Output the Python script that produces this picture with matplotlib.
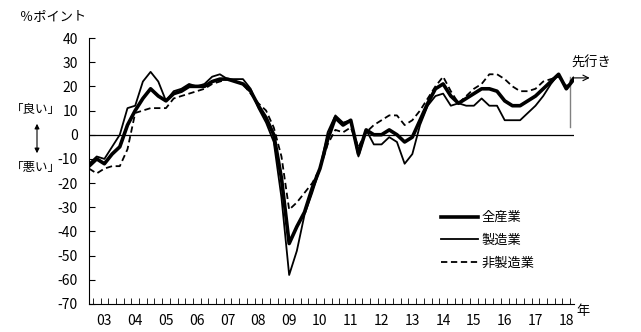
import numpy as np
import matplotlib.pyplot as plt

plt.rcParams['font.family'] = ['Noto Sans CJK JP', 'DejaVu Sans']
plt.rcParams['axes.unicode_minus'] = False

# quarterly DI, last point is the outlook (先行き)
years = ['03', '04', '05', '06', '07', '08', '09', '10',
         '11', '12', '13', '14', '15', '16', '17', '18']

all_ind = [-13, -10, -12, -8, -5, 4, 10, 15, 19, 16, 14, 17, 18, 20, 20, 20,
           22, 23, 23, 22, 21, 18, 12, 7, 0, -18, -45, -38, -32, -22, -14, -2,
           7, 4, 6, -8, 2, 0, 0, 2, 0, -3, -1, 6, 13, 19, 21, 16,
           13, 15, 17, 19, 19, 18, 14, 12, 12, 14, 16, 19, 22, 25, 19, 23]
mfg = [-12, -9, -10, -5, 0, 11, 12, 22, 26, 22, 14, 18, 19, 21, 20, 21,
       24, 25, 23, 23, 23, 19, 11, 5, -3, -26, -58, -48, -33, -24, -14, 1,
       8, 5, 6, -9, 2, -4, -4, -1, -3, -12, -8, 4, 12, 16, 17, 12,
       13, 12, 12, 15, 12, 12, 6, 6, 6, 9, 12, 16, 21, 25, 19, 23]
non_mfg = [-14, -16, -14, -13, -13, -6, 9, 10, 11, 11, 11, 15, 16, 17, 18, 19,
           21, 22, 23, 22, 21, 17, 13, 10, 3, -9, -31, -28, -24, -20, -14, -4,
           2, 1, 3, -5, 1, 4, 6, 8, 8, 4, 6, 10, 15, 20, 24, 18,
           13, 16, 19, 21, 25, 25, 23, 20, 18, 18, 19, 22, 23, 24, 20, 24]

x = np.arange(len(all_ind))

fig = plt.figure(figsize=(6.41, 3.32), dpi=100)
ax = fig.add_axes([89 / 641, 1 - 304 / 332, (574 - 89) / 641, (304 - 38) / 332])

l1, = ax.plot(x, all_ind, color='black', lw=2.6, label='全産業', zorder=4)
l2, = ax.plot(x, mfg, color='black', lw=1.3, label='製造業', zorder=3)
l3, = ax.plot(x, non_mfg, color='black', lw=1.3, ls=(0, (3.5, 2)), label='非製造業', zorder=3)
ax.axhline(0, color='black', lw=0.9, zorder=2)

ax.set_xlim(0, len(x) - 1)
ax.set_ylim(-70, 40)
ax.spines['top'].set_visible(False)
ax.spines['right'].set_visible(False)

ax.set_yticks(range(-70, 41, 10))
ax.tick_params(axis='y', direction='in', length=4, labelsize=10, pad=8)
ax.set_xticks(np.arange(len(years)) * 4 + 2)
ax.set_xticklabels(years)
ax.set_xticks(np.arange(len(x) - 1) + 0.5, minor=True)
ax.tick_params(axis='x', which='major', length=0, labelsize=10, pad=7)
ax.tick_params(axis='x', which='minor', direction='in', length=4)

# outlook separator and arrow
sep_x = (x[-2] + x[-1]) / 2
ax.plot([sep_x, sep_x], [3, 24], color='gray', lw=1, zorder=1)
ax.annotate('', xy=(sep_x + 2.9, 23.5), xytext=(sep_x, 23.5),
            arrowprops=dict(arrowstyle='->', lw=0.8, color='black'),
            annotation_clip=False)
ax.text(sep_x + 0.2, 29.5, '先行き', ha='left', va='center', fontsize=9.5, clip_on=False)

ax.legend(handles=[l1, l2, l3], loc='upper left', bbox_to_anchor=(0.688, 0.364),
          bbox_transform=fig.transFigure, frameon=False, fontsize=9.5,
          handlelength=2.8, handletextpad=0.25, labelspacing=0.75, borderpad=0,
          borderaxespad=0)

fig.text(53 / 641, 1 - 17 / 332, '％ポイント', ha='center', va='center', fontsize=9.5)
fig.text(36 / 641, 1 - 110 / 332, '「良い」', ha='center', va='center', fontsize=9)
fig.text(36 / 641, 1 - 167 / 332, '「悪い」', ha='center', va='center', fontsize=9)
ax.annotate('', xy=(37 / 641, 1 - 156 / 332), xytext=(37 / 641, 1 - 121 / 332),
            xycoords='figure fraction', textcoords='figure fraction',
            arrowprops=dict(arrowstyle='<|-|>', lw=0.8, color='black', mutation_scale=7))
fig.text(583 / 641, 1 - 312 / 332, '年', ha='center', va='center', fontsize=9.5)

fig.savefig('out.png', dpi=100)
